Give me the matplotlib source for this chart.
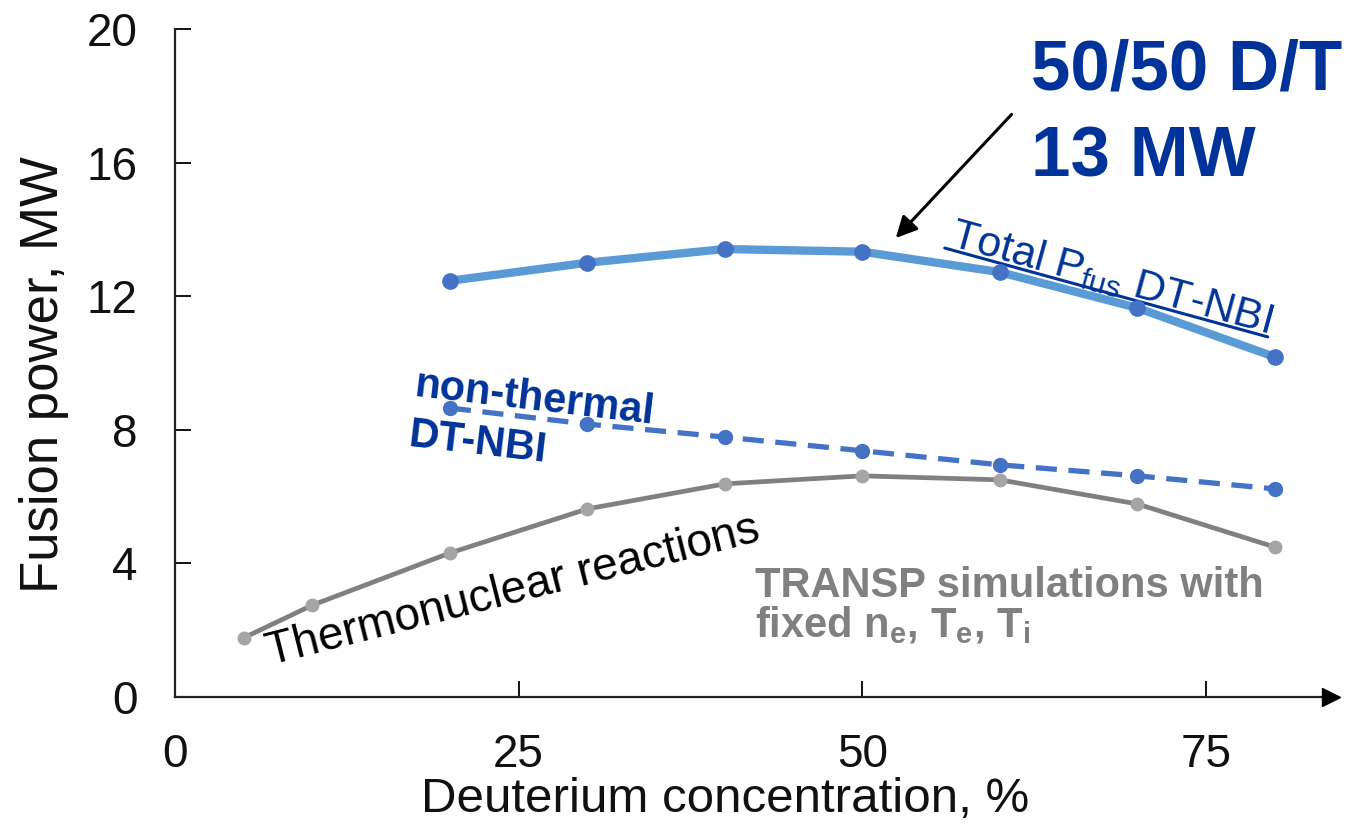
import numpy as np
import matplotlib
matplotlib.use("Agg")
import matplotlib.pyplot as plt

plt.rcParams['font.family'] = ['Liberation Sans', 'DejaVu Sans']
plt.rcParams['mathtext.default'] = 'regular'

# Deuterium concentration (%) and fusion power (MW) from the TRANSP runs
d_total = [20, 30, 40, 50, 60, 70, 80]
p_total = [12.46, 13.0, 13.41, 13.33, 12.72, 11.65, 10.18]

d_beam = [20, 30, 40, 50, 60, 70, 80]
p_beam = [8.65, 8.17, 7.78, 7.37, 6.95, 6.62, 6.23]

d_thermo = [5, 10, 20, 30, 40, 50, 60, 70, 80]
p_thermo = [1.77, 2.75, 4.31, 5.63, 6.38, 6.62, 6.50, 5.78, 4.49]

xticks = [0, 25, 50, 75]
yticks = [0, 4, 8, 12, 16, 20]

dark_blue = '#003399'

fig = plt.figure(figsize=(13.47, 8.31), dpi=100)
ax = fig.add_axes([0.1299, 0.1613, 0.8582, 0.8039])

ax.plot(d_thermo, p_thermo, color='#808080', lw=3.4, marker='o', ms=9,
        mfc='#A5A5A5', mec='#A5A5A5', zorder=3)
ax.plot(d_beam, p_beam, color='#4472C4', lw=3.8, ls=(0, (4, 2.2)), marker='o', ms=10,
        mfc='#4472C4', mec='#4472C4', zorder=4)
ax.plot(d_total, p_total, color='#5B9BD5', lw=6, marker='o', ms=11,
        mfc='#4472C4', mec='#4472C4', zorder=5)

ax.set_xlim(0, 84.1)
ax.set_ylim(0, 20)
ax.set_xticks(xticks)
ax.set_yticks(yticks)
ax.tick_params(direction='in', length=11.5, width=1.4, labelsize=33, pad=27, colors='#111111')
ax.tick_params(axis='x', pad=26)
for s in ['top', 'right']:
    ax.spines[s].set_visible(False)
for s in ['left', 'bottom']:
    ax.spines[s].set_linewidth(1.6)
    ax.spines[s].set_color('#222222')

# arrow head on the x axis
ax.plot(1, 0, marker='>', ms=13, color='black', transform=ax.get_yaxis_transform(),
        clip_on=False, zorder=6)

ax.set_xlabel('Deuterium concentration, %', fontsize=35.5, color='#111111')
ax.set_ylabel('Fusion power, MW', fontsize=38, color='#111111')
ax.xaxis.set_label_coords(0.476, -0.12)
ax.yaxis.set_label_coords(-0.092, 0.482)

# callout for the 50/50 mixture
ax.text(62.3, 19.7, '50/50 D/T', fontsize=51, fontweight='bold', color=dark_blue,
        ha='left', va='top')
ax.text(62.3, 17.1, '13 MW', fontsize=51, fontweight='bold', color=dark_blue,
        ha='left', va='top')
ax.annotate('', xy=(52.3, 13.68), xytext=(61.0, 17.5),
            arrowprops=dict(arrowstyle='-|>', color='black', lw=2.2, mutation_scale=32))

# curve labels
ax.text(56.1, 13.25, r'Total P$_{fus}$ DT-NBI', fontsize=31, color=dark_blue,
        rotation=-15.4, rotation_mode='anchor', ha='left', va='bottom')
ax.annotate('', xy=(79.5, 10.78), xytext=(56.0, 13.44),
            arrowprops=dict(arrowstyle='-', color=dark_blue, lw=2.2, shrinkA=0, shrinkB=0))

ax.text(17.3, 9.0, 'non-thermal', fontsize=30, fontweight='bold', color=dark_blue,
        rotation=-6.7, rotation_mode='anchor', ha='left', va='baseline')
ax.text(16.9, 7.5, 'DT-NBI', fontsize=30, fontweight='bold', color=dark_blue,
        rotation=-6.7, rotation_mode='anchor', ha='left', va='baseline')

ax.text(6.9, 0.95, 'Thermonuclear reactions', fontsize=33, color='black',
        rotation=14.2, rotation_mode='anchor', ha='left', va='baseline')

ax.text(42.2, 3.0, 'TRANSP simulations with', fontsize=30, fontweight='bold',
        color='#808080', ha='left', va='baseline')
ax.text(42.2, 1.78, r'fixed n$_{e}$, T$_{e}$, T$_{i}$', fontsize=30, fontweight='bold',
        color='#808080', ha='left', va='baseline')

fig.savefig('out.png', dpi=100)
